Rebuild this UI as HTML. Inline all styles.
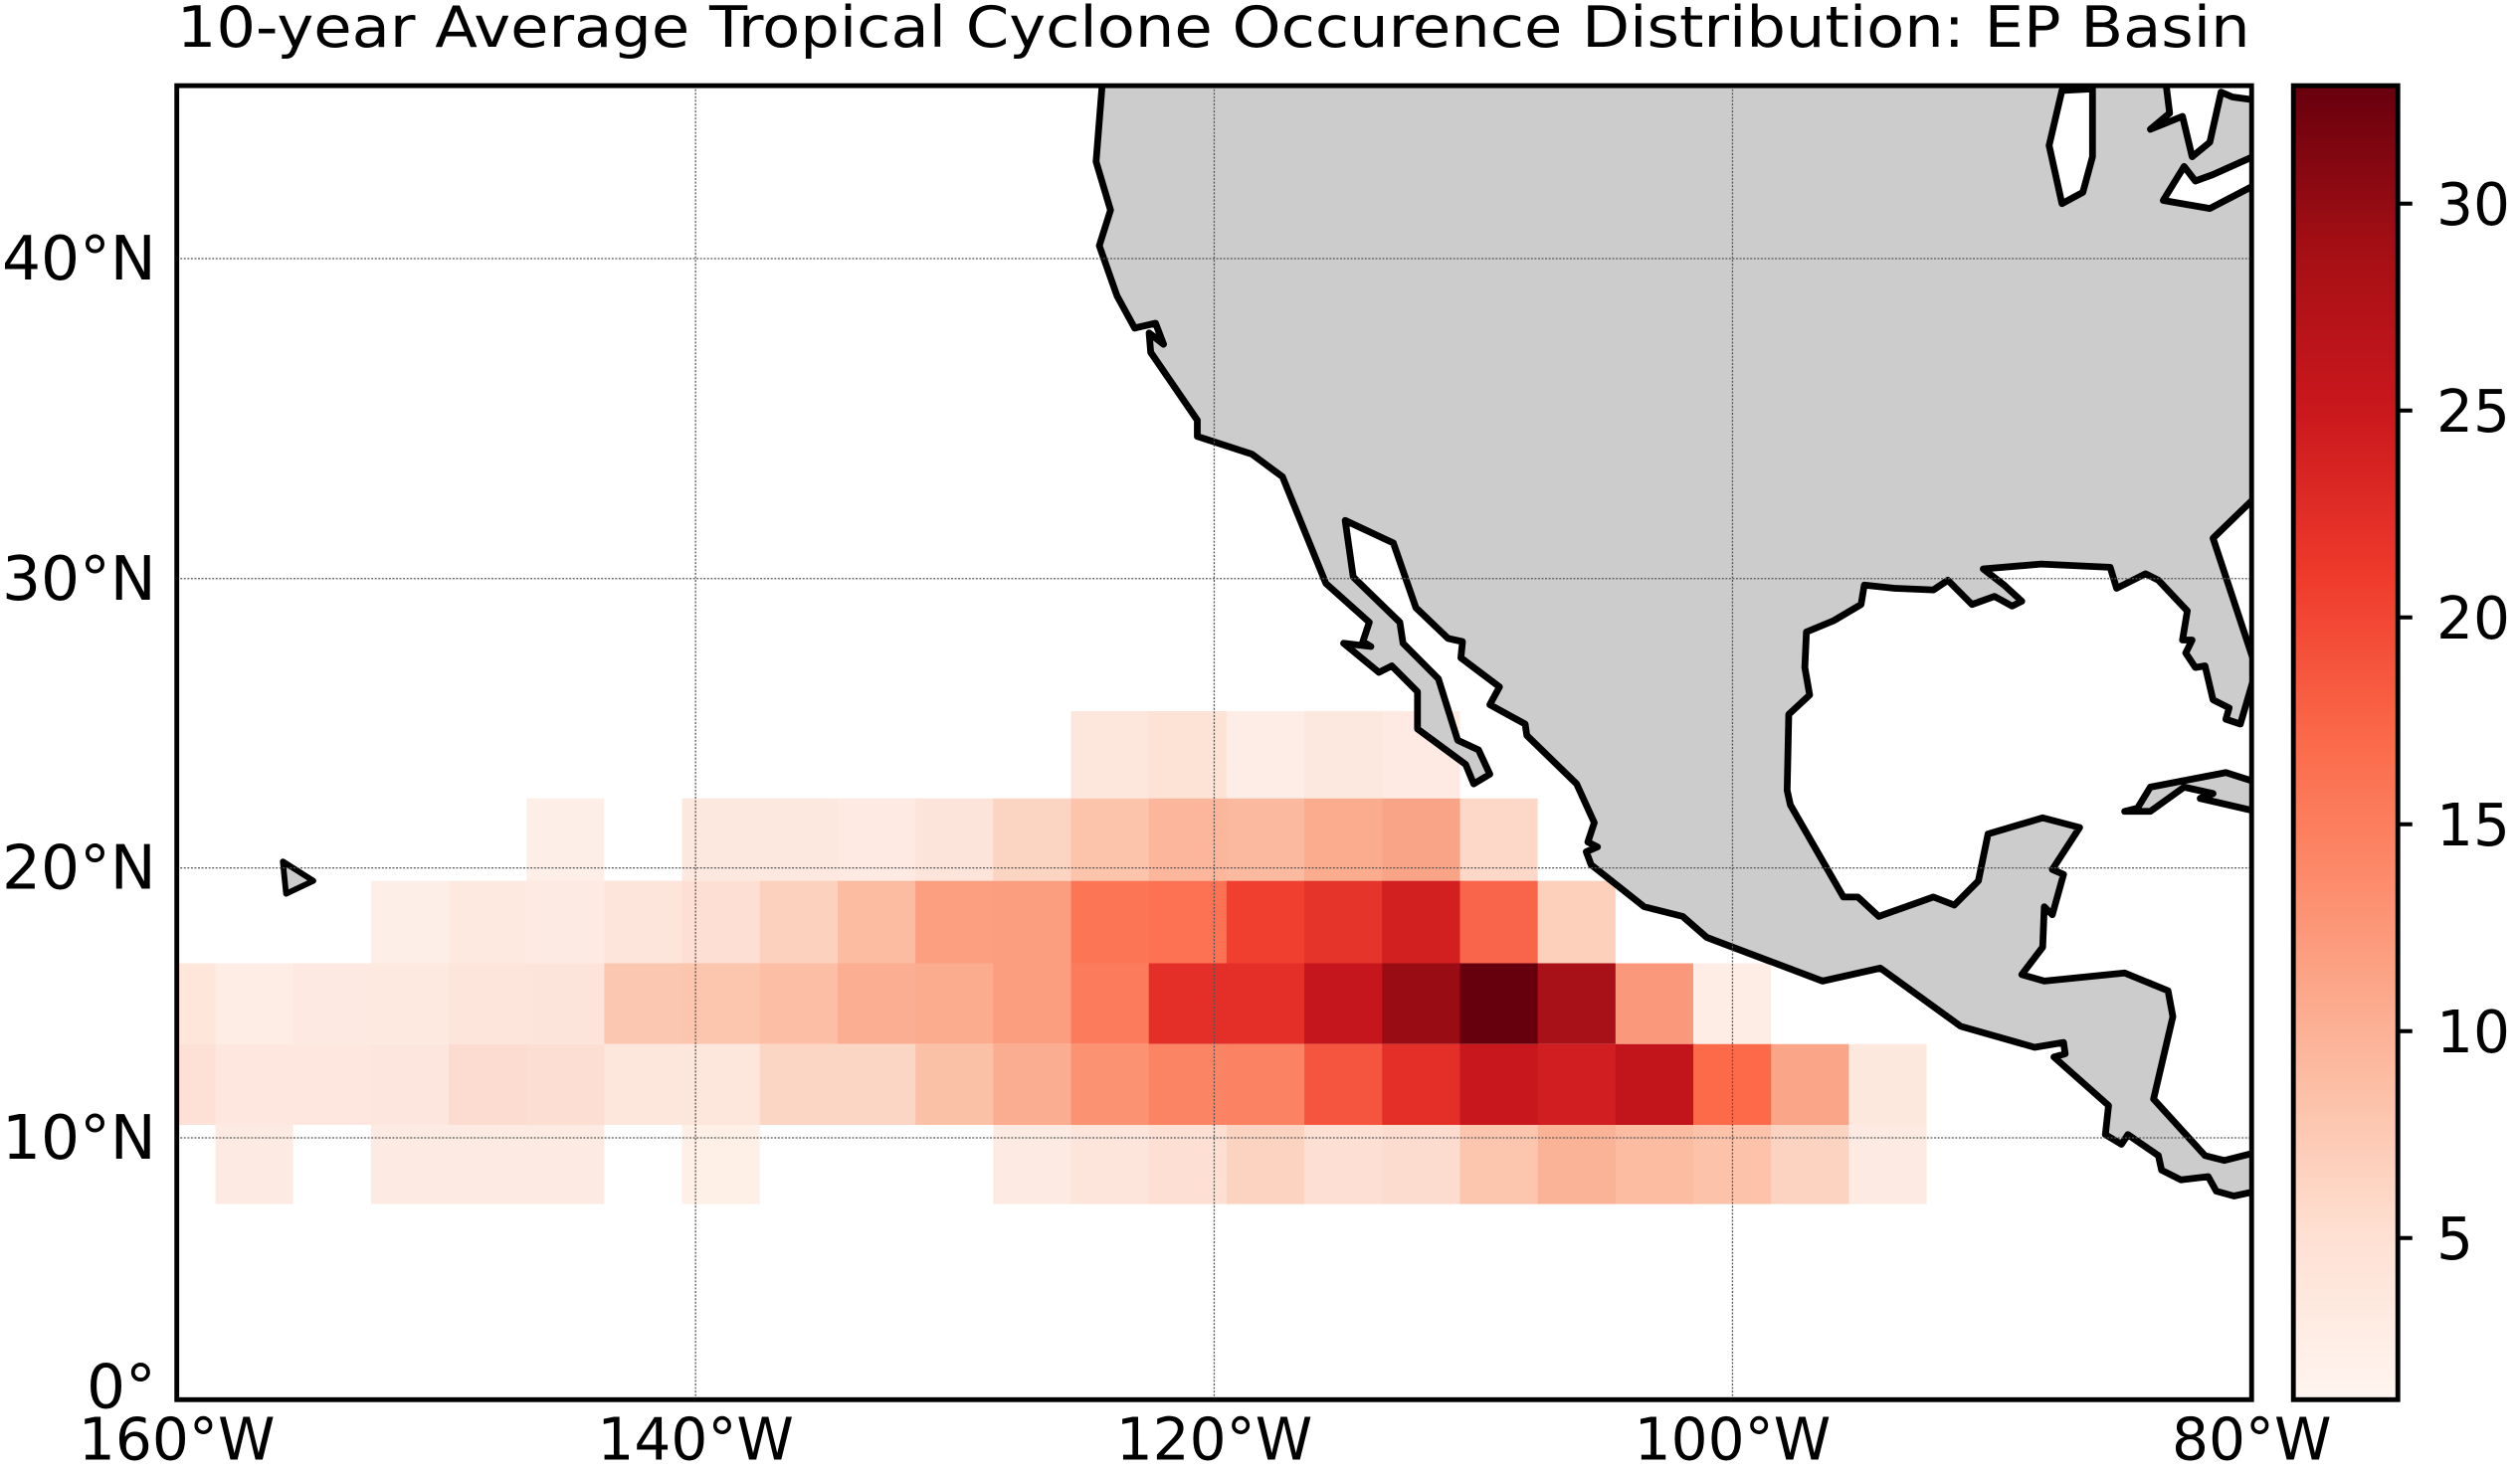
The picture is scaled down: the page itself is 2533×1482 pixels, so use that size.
<!DOCTYPE html>
<html><head><meta charset="utf-8"><style>html,body{margin:0;padding:0;background:#fff}svg{display:block}</style></head>
<body>
<svg width="2533" height="1482" viewBox="0 0 1568 912" preserveAspectRatio="none" xmlns="http://www.w3.org/2000/svg" font-family="DejaVu Sans, Liberation Sans, sans-serif">
<defs>
<linearGradient id="cb" x1="0" y1="1" x2="0" y2="0">
<stop offset="0" stop-color="#fff5f0"/><stop offset="0.125" stop-color="#fee0d2"/><stop offset="0.25" stop-color="#fcbba1"/><stop offset="0.375" stop-color="#fc9272"/><stop offset="0.5" stop-color="#fb6a4a"/><stop offset="0.625" stop-color="#ef3b2c"/><stop offset="0.75" stop-color="#cb181d"/><stop offset="0.875" stop-color="#a50f15"/><stop offset="1" stop-color="#67000d"/>
</linearGradient>
<clipPath id="ax"><rect x="110" y="53" width="1291" height="813"/></clipPath>
</defs>
<text x="110" y="29" font-size="35" textLength="1290" lengthAdjust="spacingAndGlyphs">10-year Average Tropical Cyclone Occurence Distribution: EP Basin</text>
<g clip-path="url(#ax)">
<g transform="translate(0,440)">
<rect x="666.4" y="0" width="49" height="54" fill="#fde6dc"/><rect x="714.8" y="0" width="49" height="54" fill="#fde2d6"/><rect x="763.2" y="0" width="49" height="54" fill="#feede6"/><rect x="811.6" y="0" width="49" height="54" fill="#fde8df"/><rect x="860" y="0" width="48.4" height="54" fill="#feeae2"/>
</g>
<g transform="translate(0,494)">
<rect x="327.6" y="0" width="48.4" height="51" fill="#feeee8"/>
<rect x="424.4" y="0" width="49" height="51" fill="#fde8df"/><rect x="472.8" y="0" width="49" height="51" fill="#fde8df"/><rect x="521.2" y="0" width="49" height="51" fill="#feeae2"/><rect x="569.6" y="0" width="49" height="51" fill="#fde4da"/><rect x="618" y="0" width="49" height="51" fill="#fcd5c2"/><rect x="666.4" y="0" width="49" height="51" fill="#fcc4ab"/><rect x="714.8" y="0" width="49" height="51" fill="#fbb69c"/><rect x="763.2" y="0" width="49" height="51" fill="#fbbaa0"/><rect x="811.6" y="0" width="49" height="51" fill="#fbab8e"/><rect x="860" y="0" width="49" height="51" fill="#faa487"/><rect x="908.4" y="0" width="48.4" height="51" fill="#fdd8c8"/>
</g>
<g transform="translate(0,545)">
<rect x="230.8" y="0" width="49" height="51" fill="#feeee8"/><rect x="279.2" y="0" width="49" height="51" fill="#fde9e0"/><rect x="327.6" y="0" width="49" height="51" fill="#fdeae2"/><rect x="376" y="0" width="49" height="51" fill="#fde5dc"/><rect x="424.4" y="0" width="49" height="51" fill="#fddfd3"/><rect x="472.8" y="0" width="49" height="51" fill="#fcd1bd"/><rect x="521.2" y="0" width="49" height="51" fill="#fbbca2"/><rect x="569.6" y="0" width="49" height="51" fill="#fb9f80"/><rect x="618" y="0" width="49" height="51" fill="#fb9e80"/><rect x="666.4" y="0" width="49" height="51" fill="#fc7555"/><rect x="714.8" y="0" width="49" height="51" fill="#fc7252"/><rect x="763.2" y="0" width="49" height="51" fill="#f03f2f"/><rect x="811.6" y="0" width="49" height="51" fill="#e53429"/><rect x="860" y="0" width="49" height="51" fill="#d21f20"/><rect x="908.4" y="0" width="49" height="51" fill="#f8654a"/><rect x="956.8" y="0" width="48.4" height="51" fill="#fdd0bc"/>
</g>
<g transform="translate(0,596)">
<rect x="110" y="0" width="24.5" height="50" fill="#fee6da"/><rect x="134" y="0" width="49" height="50" fill="#feede5"/><rect x="182.4" y="0" width="49" height="50" fill="#fde9e1"/><rect x="230.8" y="0" width="49" height="50" fill="#fde9e0"/><rect x="279.2" y="0" width="49" height="50" fill="#fde5dc"/><rect x="327.6" y="0" width="49" height="50" fill="#fde4da"/><rect x="376" y="0" width="49" height="50" fill="#fcc7b0"/><rect x="424.4" y="0" width="49" height="50" fill="#fcc5ad"/><rect x="472.8" y="0" width="49" height="50" fill="#fcbfa6"/><rect x="521.2" y="0" width="49" height="50" fill="#fbae92"/><rect x="569.6" y="0" width="49" height="50" fill="#fbab8e"/><rect x="618" y="0" width="49" height="50" fill="#fb9e7f"/><rect x="666.4" y="0" width="49" height="50" fill="#fb7b5c"/><rect x="714.8" y="0" width="49" height="50" fill="#e32f27"/><rect x="763.2" y="0" width="49" height="50" fill="#e32f27"/><rect x="811.6" y="0" width="49" height="50" fill="#c4161c"/><rect x="860" y="0" width="49" height="50" fill="#990c14"/><rect x="908.4" y="0" width="49" height="50" fill="#67000d"/><rect x="956.8" y="0" width="49" height="50" fill="#a81118"/><rect x="1005.2" y="0" width="49" height="50" fill="#fa987b"/><rect x="1053.6" y="0" width="48.4" height="50" fill="#feede5"/>
</g>
<g transform="translate(0,646)">
<rect x="110" y="0" width="24.5" height="50" fill="#fde0d6"/><rect x="134" y="0" width="49" height="50" fill="#fde7de"/><rect x="182.4" y="0" width="49" height="50" fill="#fde7de"/><rect x="230.8" y="0" width="49" height="50" fill="#fde6dd"/><rect x="279.2" y="0" width="49" height="50" fill="#fcdcd0"/><rect x="327.6" y="0" width="49" height="50" fill="#fcdfd2"/><rect x="376" y="0" width="49" height="50" fill="#fde6dc"/><rect x="424.4" y="0" width="49" height="50" fill="#fde6dc"/><rect x="472.8" y="0" width="49" height="50" fill="#fcd6c5"/><rect x="521.2" y="0" width="49" height="50" fill="#fcd6c5"/><rect x="569.6" y="0" width="49" height="50" fill="#fbc1a7"/><rect x="618" y="0" width="49" height="50" fill="#fbad92"/><rect x="666.4" y="0" width="49" height="50" fill="#fb9272"/><rect x="714.8" y="0" width="49" height="50" fill="#fb8464"/><rect x="763.2" y="0" width="49" height="50" fill="#fb8262"/><rect x="811.6" y="0" width="49" height="50" fill="#f5553f"/><rect x="860" y="0" width="49" height="50" fill="#e32f27"/><rect x="908.4" y="0" width="49" height="50" fill="#c9181d"/><rect x="956.8" y="0" width="49" height="50" fill="#d01e21"/><rect x="1005.2" y="0" width="49" height="50" fill="#c2141b"/><rect x="1053.6" y="0" width="49" height="50" fill="#fc6a4a"/><rect x="1102" y="0" width="49" height="50" fill="#fba588"/><rect x="1150.4" y="0" width="48.4" height="50" fill="#fde8de"/>
</g>
<g transform="translate(0,696)">
<rect x="134" y="0" width="48.4" height="49" fill="#fdebe3"/>
<rect x="230.8" y="0" width="49" height="49" fill="#fdebe3"/><rect x="279.2" y="0" width="49" height="49" fill="#fdebe3"/><rect x="327.6" y="0" width="48.4" height="49" fill="#fdebe3"/>
<rect x="424.4" y="0" width="48.4" height="49" fill="#feefe7"/>
<rect x="618" y="0" width="49" height="49" fill="#fdebe3"/><rect x="666.4" y="0" width="49" height="49" fill="#fde5dc"/><rect x="714.8" y="0" width="49" height="49" fill="#fddfd3"/><rect x="763.2" y="0" width="49" height="49" fill="#fcd3c1"/><rect x="811.6" y="0" width="49" height="49" fill="#fddfd3"/><rect x="860" y="0" width="49" height="49" fill="#fddcd0"/><rect x="908.4" y="0" width="49" height="49" fill="#fcc6ae"/><rect x="956.8" y="0" width="49" height="49" fill="#fbb398"/><rect x="1005.2" y="0" width="49" height="49" fill="#fbbca2"/><rect x="1053.6" y="0" width="49" height="49" fill="#fcc3aa"/><rect x="1102" y="0" width="49" height="49" fill="#fcd3c1"/><rect x="1150.4" y="0" width="48.4" height="49" fill="#fdebe3"/>
</g>
<g fill="#cccccc" stroke="#000" stroke-width="4.2" stroke-linejoin="round">
<path d="M686,50 L682,100 L691,130 L684,152 L695,183 L706,203 L719,200 L724,213 L715,206 L716,218 L745,260 L745,270 L779,281 L798,295 L825,361 L852,385 L848,397 L853,400 L836,398 L858,416 L866,412 L882,428 L882,451 L912,473 L917,485 L927,479 L920,464 L907,458 L895,420 L873,398 L871,385 L842,357 L837,322 L867,336 L881,376 L901,395 L910,397 L909,407 L933,425 L927,436 L949,448 L950,455 L981,485 L992,509 L988,521 L994,524 L987,527 L990,535 L1023,561 L1047,567 L1062,580 L1134,607 L1170,599 L1220,635 L1266,648 L1284,645 L1285,652 L1278,654 L1312,684 L1310,702 L1320,708 L1324,702 L1343,715 L1345,724 L1357,730 L1374,728 L1379,737 L1390,740 L1404,737 L1404,713 L1384,718 L1372,715 L1340,680 L1352,629 L1349,613 L1322,602 L1272,607 L1258,603 L1271,586 L1272,561 L1277,566 L1284,541 L1277,538 L1294,512 L1271,506 L1237,516 L1231,545 L1216,560 L1203,555 L1169,567 L1156,555 L1147,555 L1114,498 L1112,489 L1113,442 L1126,430 L1123,413 L1124,391 L1141,384 L1158,374 L1160,362 L1179,364 L1203,365 L1212,359 L1227,374 L1241,369 L1252,375 L1258,372 L1247,362 L1234,352 L1270,349 L1313,351 L1317,364 L1335,355 L1343,359 L1361,378 L1358,396 L1364,396 L1360,404 L1366,413 L1372,412 L1377,433 L1387,438 L1385,445 L1394,448 L1404,414 L1377,333 L1404,307 L1404,50 Z"/>
<path d="M1404,484 L1385,478 L1338,487 L1330,500 L1322,502 L1338,502 L1359,487 L1377,491 L1369,494 L1404,502 Z"/>
<path d="M176,533 L195,545 L178,553 Z" stroke-width="3.6"/>
<path d="M1283,56 L1275,90 L1283,126 L1296,119 L1302,97 L1302,55 Z" fill="#fff"/>
<path d="M1348,54 L1350,70 L1338,80 L1358,72 L1364,97 L1375,88 L1382,57 L1389,60 L1404,62 L1404,50 L1346,50 Z" fill="#fff"/>
<path d="M1359,103 L1346,124 L1375,129 L1404,114 L1404,96 L1377,108 L1366,112 Z" fill="#fff"/>
</g>
<g stroke="#555" stroke-width="0.8" stroke-dasharray="1.2,1">
<line x1="432.8" y1="53" x2="432.8" y2="866"/><line x1="755.5" y1="53" x2="755.5" y2="866"/><line x1="1078" y1="53" x2="1078" y2="866"/>
<line x1="110" y1="160" x2="1401" y2="160"/><line x1="110" y1="358" x2="1401" y2="358"/><line x1="110" y1="537" x2="1401" y2="537"/><line x1="110" y1="704" x2="1401" y2="704"/>
</g>
</g>
<rect x="110" y="53" width="1291" height="813" fill="none" stroke="#000" stroke-width="3"/>
<g font-size="38" text-anchor="end">
<text x="97" y="173">40°N</text><text x="97" y="371">30°N</text><text x="97" y="550">20°N</text><text x="97" y="717">10°N</text><text x="97" y="871">0°</text>
</g>
<g font-size="36" text-anchor="middle">
<text x="110" y="903">160°W</text><text x="432.8" y="903">140°W</text><text x="755.5" y="903">120°W</text><text x="1078" y="903">100°W</text><text x="1401" y="903">80°W</text>
</g>
<rect x="1427" y="53" width="65" height="813" fill="url(#cb)" stroke="#000" stroke-width="3"/>
<g stroke="#000" stroke-width="2.5">
<line x1="1492" y1="766" x2="1501" y2="766"/><line x1="1492" y1="638" x2="1501" y2="638"/><line x1="1492" y1="510" x2="1501" y2="510"/><line x1="1492" y1="382" x2="1501" y2="382"/><line x1="1492" y1="254" x2="1501" y2="254"/><line x1="1492" y1="126" x2="1501" y2="126"/>
</g>
<g font-size="36">
<text x="1516" y="779">5</text><text x="1516" y="651">10</text><text x="1516" y="523">15</text><text x="1516" y="395">20</text><text x="1516" y="267">25</text><text x="1516" y="139">30</text>
</g>
</svg>
</body></html>
